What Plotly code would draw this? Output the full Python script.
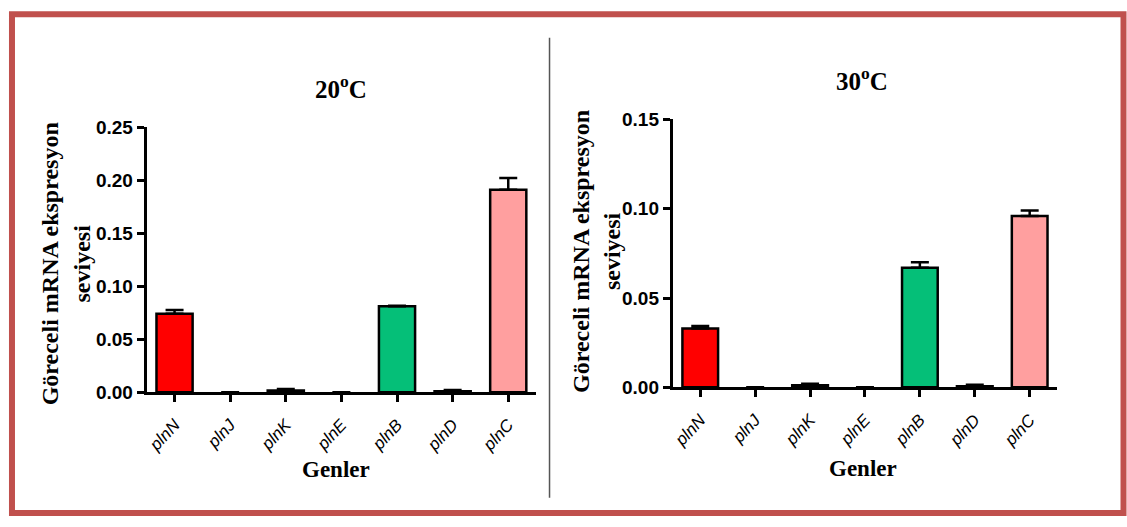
import plotly.graph_objects as go

W, H = 1127, 527

genes = ["plnN", "plnJ", "plnK", "plnE", "plnB", "plnD", "plnC"]
bar_colors = ["#FF0000", "#FFFFFF", "#000000", "#FFFFFF", "#05BF78", "#000000", "#FF9F9F"]

# relative mRNA expression at 20 °C (mean and SEM)
expr_20 = [0.074, 0.0, 0.0015, 0.0, 0.081, 0.0008, 0.191]
sem_20 = [0.0035, 0.0, 0.0015, 0.0, 0.0005, 0.0012, 0.011]

# relative mRNA expression at 30 °C (mean and SEM)
expr_30 = [0.033, 0.0, 0.0012, 0.0, 0.067, 0.0006, 0.096]
sem_30 = [0.0013, 0.0, 0.0008, 0.0, 0.003, 0.0008, 0.003]

yticks_20 = [0.0, 0.05, 0.10, 0.15, 0.20, 0.25]
yticks_30 = [0.0, 0.05, 0.10, 0.15]

SERIF = "Liberation Serif"
SANS = "Liberation Sans"


def px_x(p):
    return p / W


def px_y(p):
    return 1 - p / H


fig = go.Figure()

for vals, errs, xa, ya in [(expr_20, sem_20, "x", "y"), (expr_30, sem_30, "x2", "y2")]:
    # bars with a zero mean get no outline so nothing sits on the axis line
    outline = [2.5 if v > 0 else 0 for v in vals]
    fig.add_trace(go.Bar(
        x=genes, y=vals, xaxis=xa, yaxis=ya,
        marker=dict(color=bar_colors, line=dict(color="black", width=outline)),
        error_y=dict(type="data", symmetric=False, array=errs,
                     arrayminus=[0] * len(errs), color="black",
                     thickness=2.5, width=9),
        showlegend=False, hoverinfo="x+y",
    ))

xaxis_style = dict(
    type="category", range=[-0.5, 6.5], showline=True, linecolor="black",
    linewidth=3, ticks="outside", ticklen=7, tickwidth=2.5, tickcolor="black",
    tickangle=-47, ticklabelstandoff=6, showgrid=False, zeroline=False,
    tickfont=dict(family=SANS, size=17, color="black", style="italic"),
)
yaxis_style = dict(
    showline=True, linecolor="black", linewidth=3, ticks="outside",
    ticklen=7, tickwidth=2.5, tickcolor="black", showgrid=False,
    zeroline=False, tickformat=".2f",
    tickfont=dict(family=SANS, size=19, color="black", weight="bold"),
)

fig.update_layout(
    width=W, height=H, margin=dict(l=0, r=0, t=0, b=0),
    paper_bgcolor="white", plot_bgcolor="white", bargap=0.35,
    xaxis=dict(domain=[px_x(145), px_x(535)], anchor="y", **xaxis_style),
    yaxis=dict(domain=[px_y(398), px_y(122)], anchor="x", range=[0, 0.25],
               tickvals=yticks_20, **yaxis_style),
    xaxis2=dict(domain=[px_x(672), px_x(1057)], anchor="y2", **xaxis_style),
    yaxis2=dict(domain=[px_y(393), px_y(114)], anchor="x2", range=[0, 0.15],
                tickvals=yticks_30, **yaxis_style),
)

# outer frame and panel divider
fig.add_shape(type="rect", xref="paper", yref="paper",
              x0=px_x(10), x1=px_x(1123.5), y0=px_y(524), y1=px_y(4.5),
              line=dict(color="#C0504D", width=6), fillcolor="rgba(0,0,0,0)")
fig.add_shape(type="line", xref="paper", yref="paper",
              x0=px_x(548.5), x1=px_x(548.5), y0=px_y(508), y1=px_y(29),
              line=dict(color="#555555", width=1.5))

ytitle = "<b>Göreceli mRNA ekspresyon<br>seviyesi</b>"
texts = [
    ("<b>20<sup>o</sup>C</b>", 340, 80, 0, 25),
    ("<b>30<sup>o</sup>C</b>", 862, 72, 0, 25),
    ("<b>Genler</b>", 335, 479, 0, 23),
    ("<b>Genler</b>", 863, 478, 0, 23),
    (ytitle, 64, 264, -90, 24),
    (ytitle, 596, 251, -90, 24),
]
for txt, x, y, ang, size in texts:
    fig.add_annotation(text=txt, xref="paper", yref="paper", x=px_x(x), y=px_y(y),
                       xanchor="center", yanchor="middle", showarrow=False,
                       textangle=ang, font=dict(family=SERIF, size=size, color="black"))

# the figure fills the page edge to edge
fig.write_html("out.html", post_script="document.body.style.margin = '0';")
